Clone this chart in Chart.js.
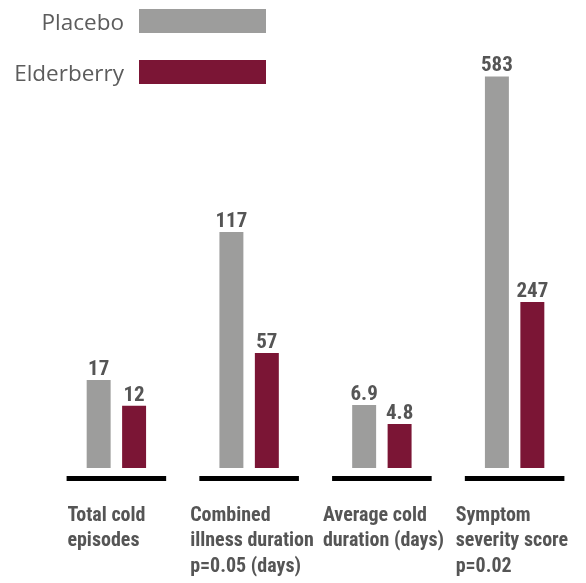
<!DOCTYPE html>
<html>
<head>
<meta charset="utf-8">
<script src="https://cdn.jsdelivr.net/npm/chart.js@4.4.1/dist/chart.umd.min.js"></script>
<style>
  html, body { margin: 0; padding: 0; background: #fff; }
  #wrap { position: relative; width: 586px; height: 583px; }
  #legend { position: absolute; left: 0; top: 0; font-family: 'Open Sans', sans-serif; font-size: 22.5px; color: #5c5c5c; }
  .legend-row { position: absolute; left: 0; height: 24px; width: 266px; }
  .legend-row span { position: absolute; right: 142px; top: -2px; white-space: nowrap; line-height: 30px; }
  .legend-row i { position: absolute; left: 139px; top: 0; width: 127px; height: 24px; }
</style>
</head>
<body>
<div id="wrap">
  <canvas id="chart" width="586" height="583"></canvas>
  <div id="legend"></div>
</div>
<script>
// ─── Data ────────────────────────────────────────────────────────────────────
const categories = [
    ['Total cold', 'episodes'],
    ['Combined', 'illness duration', 'p=0.05 (days)'],
    ['Average cold', 'duration (days)'],
    ['Symptom', 'severity score', 'p=0.02']
];
const seriesNames = ['Placebo', 'Elderberry'];
const placebo = [17, 117, 6.9, 583];
const elderberry = [12, 57, 4.8, 247];
// each measure has its own (hidden) value axis
const axisMax = [86.5, 222, 49, 667];

const seriesColors = ['#9d9d9c', '#7b1535'];
const textColor = '#555555';
const condensed = "'Roboto Condensed', 'Open Sans Condensed', 'DejaVu Sans Condensed', sans-serif";

// ─── Legend (text left of the swatch) ────────────────────────────────────────
const legend = document.getElementById('legend');
seriesNames.forEach((name, i) => {
    const row = document.createElement('div');
    row.className = 'legend-row';
    row.style.top = (9 + i * 51) + 'px';
    row.innerHTML = `<span>${name}</span><i style="background:${seriesColors[i]}"></i>`;
    legend.appendChild(row);
});

// ─── Datasets: one per measure and series, on the measure's own axis ─────────
const seriesValues = [placebo, elderberry];
const datasets = [];
const yScales = {};
categories.forEach((cat, g) => {
    yScales['y' + g] = { display: false, min: 0, max: axisMax[g] };
    seriesValues.forEach((vals, s) => {
        datasets.push({
            label: seriesNames[s],
            data: categories.map((_, k) => k === g ? vals[g] : null),
            backgroundColor: seriesColors[s],
            yAxisID: 'y' + g,
            skipNull: true,
            categoryPercentage: 0.534,
            barPercentage: 0.676
        });
    });
});

// ─── Plugins: value labels, base segments, first-label nudge ────────────────
const valueLabels = {
    id: 'valueLabels',
    afterDatasetsDraw(chart) {
        const ctx = chart.ctx;
        ctx.save();
        ctx.font = `bold 21px ${condensed}`;
        ctx.fillStyle = textColor;
        ctx.textAlign = 'center';
        ctx.textBaseline = 'alphabetic';
        chart.data.datasets.forEach((ds, i) => {
            chart.getDatasetMeta(i).data.forEach((bar, k) => {
                const v = ds.data[k];
                if (v === null) return;
                ctx.fillText(String(v), bar.x, bar.y - 5);
            });
        });
        ctx.restore();
    }
};

const baseSegments = {
    id: 'baseSegments',
    afterDraw(chart) {
        const ctx = chart.ctx;
        const x = chart.scales.x;
        const half = (x.width / categories.length) * 0.375;
        ctx.save();
        ctx.fillStyle = '#000';
        categories.forEach((_, k) => {
            const cx = x.getPixelForValue(k);
            ctx.fillRect(cx - half, chart.chartArea.bottom + 8, half * 2, 5);
        });
        ctx.restore();
    }
};

// the first label sits a little further right than the others
const nudgeFirstLabel = {
    id: 'nudgeFirstLabel',
    beforeDraw(chart) {
        const items = chart.scales.x.getLabelItems();
        if (items && items[0]) items[0].options.translation[0] += 10;
    }
};

new Chart(document.getElementById('chart').getContext('2d'), {
    type: 'bar',
    data: { labels: categories, datasets: datasets },
    options: {
        responsive: false,
        animation: false,
        layout: { padding: { left: 50, right: 5, top: 20, bottom: 0 } },
        plugins: { legend: { display: false }, tooltip: { enabled: false } },
        scales: {
            x: {
                grid: { display: false, drawTicks: false },
                border: { display: false },
                afterFit: scale => {
                    scale.height = 115;
                    scale.paddingLeft = 0;
                    scale.paddingRight = 0;
                },
                ticks: {
                    align: 'start',
                    padding: 35,
                    labelOffset: -59,
                    color: textColor,
                    font: { family: condensed, size: 20, weight: 'bold', lineHeight: 1.28 }
                }
            },
            ...yScales
        }
    },
    plugins: [valueLabels, baseSegments, nudgeFirstLabel]
});
</script>
</body>
</html>
